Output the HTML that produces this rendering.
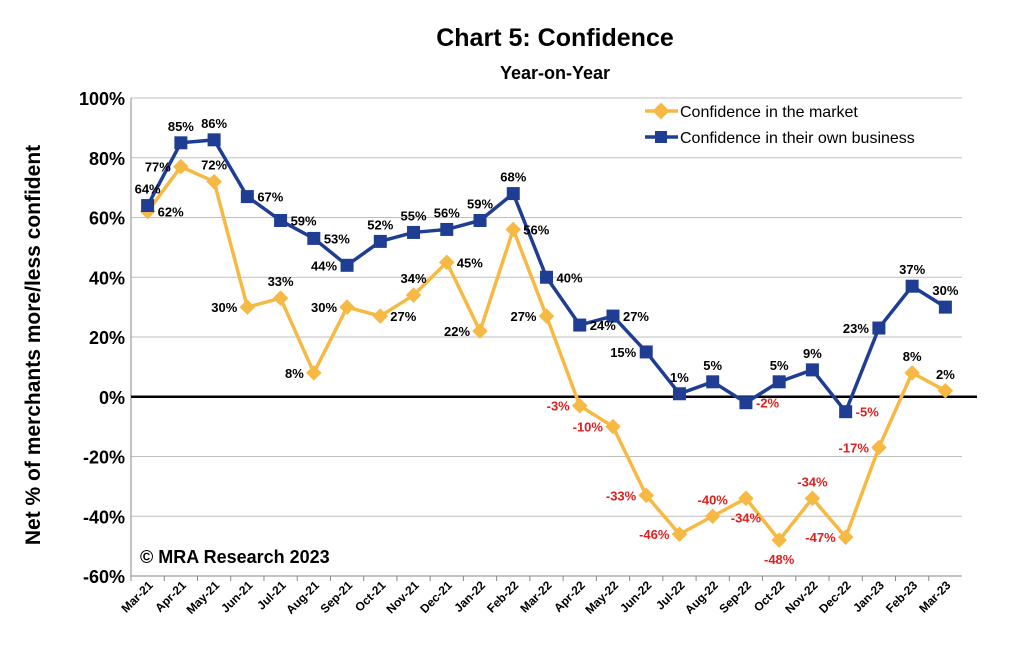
<!DOCTYPE html>
<html><head><meta charset="utf-8"><style>
body{margin:0;background:#fff;}
svg text{font-family:"Liberation Sans",sans-serif;}
</style></head><body>
<svg id="c" width="1010" height="649" xmlns="http://www.w3.org/2000/svg">
<text x="555" y="46" text-anchor="middle" font-size="25" font-weight="bold">Chart 5: Confidence</text>
<text x="555" y="79" text-anchor="middle" font-size="18" font-weight="bold">Year-on-Year</text>
<text transform="translate(40,345) rotate(-90)" text-anchor="middle" font-size="21" font-weight="bold">Net % of merchants more/less confident</text>
<text x="140" y="563" font-size="18" font-weight="bold">© MRA Research 2023</text>
<g id="grid"></g><g id="axes"></g><g id="series"></g><g id="labels"></g>
<g>
<g><line x1="645" y1="111" x2="678" y2="111" stroke="#F6B944" stroke-width="3.5"/><rect x="655" y="105" width="12" height="12" fill="#F6B944" transform="rotate(45 661 111)"/><text x="680" y="117" font-size="16">Confidence in the market</text></g>
<g><line x1="645" y1="137" x2="678" y2="137" stroke="#1F3E93" stroke-width="3.5"/><rect x="655" y="131" width="12" height="12" fill="#1F3E93"/><text x="680" y="143" font-size="16">Confidence in their own business</text></g>
</g>
</svg>
<script>
const categories=["Mar-21","Apr-21","May-21","Jun-21","Jul-21","Aug-21","Sep-21","Oct-21","Nov-21","Dec-21","Jan-22","Feb-22","Mar-22","Apr-22","May-22","Jun-22","Jul-22","Aug-22","Sep-22","Oct-22","Nov-22","Dec-22","Jan-23","Feb-23","Mar-23"];
const marketValues=[62,77,72,30,33,8,30,27,34,45,22,56,27,-3,-10,-33,-46,-40,-34,-48,-34,-47,-17,8,2];
const businessValues=[64,85,86,67,59,53,44,52,55,56,59,68,40,24,27,15,1,5,-2,5,9,-5,23,37,30];
const yTicks=[100,80,60,40,20,0,-20,-40,-60];
const marketLabelPos=["r","l","t","l","t","l","l","r","t","r","l","r","l","l","l","l","l","t","b","b","t","l","l","t","t"];
const businessLabelPos=["t","t","t","r","r","r","l","t","t","t","t","t","r","r","r","l","t","t","r","t","t","r","l","t","t"];
const NS="http://www.w3.org/2000/svg";
const L=131,R=962,T=98,B=576;
const band=(R-L)/categories.length;
const x=i=>L+band*(i+0.5);
const y=v=>T+(100-v)/160*(B-T);
function mk(tag,attrs,parent){const e=document.createElementNS(NS,tag);for(const k in attrs)e.setAttribute(k,attrs[k]);parent.appendChild(e);return e;}
const grid=document.getElementById('grid'),axes=document.getElementById('axes'),ser=document.getElementById('series'),lab=document.getElementById('labels');
yTicks.forEach(t=>{
  if(t!==0&&t!==-60){const g=mk('line',{x1:L,x2:R,y1:y(t),y2:y(t),stroke:'#bfbfbf','stroke-width':1},grid);
  
  }
  const tx=mk('text',{x:L-6,y:y(t)+7,'text-anchor':'end','font-size':18,'font-weight':'bold'},axes);tx.textContent=t+'%';
  
  
});
mk('line',{x1:L,x2:L,y1:T,y2:B,stroke:'#888'},axes);
mk('line',{x1:L,x2:R,y1:B,y2:B,stroke:'#888'},axes);
mk('line',{x1:L,x2:977,y1:y(0),y2:y(0),stroke:'#000','stroke-width':2.5},axes);
categories.forEach((c,i)=>{
  mk('line',{x1:L+band*i,x2:L+band*i,y1:B,y2:B+5,stroke:'#888'},axes);
  const xx=x(i)+6,yy=B+10;
  const t=mk('text',{x:xx,y:yy,'text-anchor':'end','font-size':12,'font-weight':'bold',transform:`rotate(-45 ${xx} ${yy})`},axes);t.textContent=c;
  
  
});
function series(vals,color,shape,pos,name){
  const p=mk('polyline',{points:vals.map((v,i)=>x(i)+','+y(v)).join(' '),fill:'none',stroke:color,'stroke-width':3.5},ser);
  
  
  vals.forEach((v,i)=>{
    let m;
    if(shape==='sq')m=mk('rect',{x:x(i)-6.5,y:y(v)-6.5,width:13,height:13,fill:color},ser);
    else m=mk('rect',{x:x(i)-5.5,y:y(v)-5.5,width:11,height:11,fill:color,transform:`rotate(45 ${x(i)} ${y(v)})`},ser);
    
    
    let lx=x(i),ly=y(v)+5,a='middle';
    const ps=pos[i];
    if(ps==='t')ly=y(v)-12;else if(ps==='b')ly=y(v)+24;
    else if(ps==='l'){lx=x(i)-10;a='end';}else{lx=x(i)+10;a='start';}
    const t=mk('text',{x:lx,y:ly,'text-anchor':a,'font-size':13,'font-weight':'bold',fill:v<0?'#E02020':'#000'},lab);
    t.textContent=v+'%';
    
    
  });
}
series(marketValues,'#F6B944','dia',marketLabelPos,'market');
series(businessValues,'#1F3E93','sq',businessLabelPos,'business');
</script>
</body></html>
